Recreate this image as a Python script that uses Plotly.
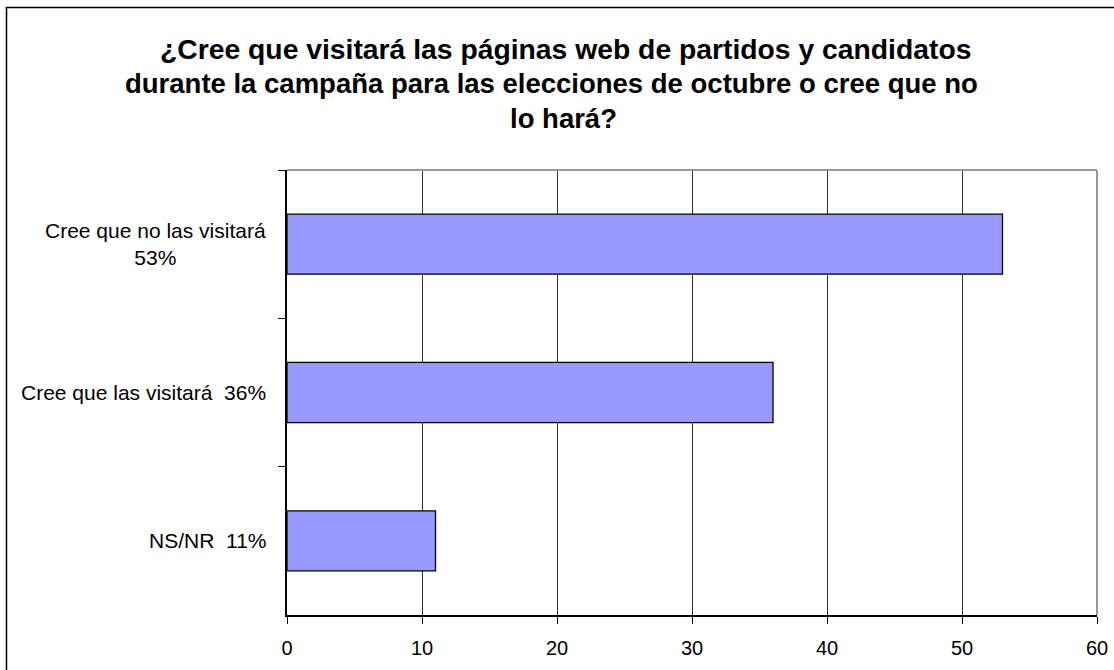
import plotly.graph_objects as go

categories = ["Cree que no las visitará<br>53%", "Cree que las visitará  36%", "NS/NR  11%"]
values = [53, 36, 11]
x_ticks = [0, 10, 20, 30, 40, 50, 60]
title_lines = [
    "¿Cree que visitará las páginas web de partidos y candidatos",
    "durante la campaña para las elecciones de octubre o cree que no",
    "lo hará?",
]

W, H = 1114, 670
L, R, T, B = 287, 17, 170, 55
pw, ph = W - L - R, H - T - B
FONT = "Liberation Sans, Arial, sans-serif"

fig = go.Figure()
fig.add_trace(go.Bar(
    x=values, y=categories, orientation="h",
    marker=dict(color="#9999FF", line=dict(color="#000000", width=1.3)),
    hoverinfo="x+y",
))

annotations = []
for c in categories:
    annotations.append(dict(
        x=0, y=c, xref="x", yref="y", text=c, showarrow=False,
        xanchor="right", yanchor="middle", align="center", xshift=-19,
        font=dict(family=FONT, size=21, color="#000000"),
    ))
# title lines (page-pixel centres and sizes)
title_pos = [(565, 49, 28.3), (551, 83, 27.5), (563, 118, 27.5)]
for line, (px, py, fs) in zip(title_lines, title_pos):
    annotations.append(dict(
        x=(px - L) / pw, y=1 + (T - py) / ph, xref="paper", yref="paper",
        text="<b>" + line + "</b>", showarrow=False, xanchor="center", yanchor="middle",
        font=dict(family=FONT, size=fs, color="#000000"),
    ))

shapes = [
    # outer chart border (extends beyond the visible area on right/bottom)
    dict(type="rect", xref="paper", yref="paper",
         x0=(6.5 - L) / pw, x1=1.2, y0=-0.4, y1=1 + (T - 7.5) / ph,
         line=dict(color="#000000", width=1.5), layer="below"),
    # grey top and right border of plot area
    dict(type="line", xref="paper", yref="paper", x0=0, x1=1, y0=1, y1=1,
         line=dict(color="#999999", width=2), layer="above"),
    dict(type="line", xref="paper", yref="paper", x0=1, x1=1, y0=0, y1=1,
         line=dict(color="#999999", width=2), layer="above"),
]

fig.update_layout(
    width=W, height=H,
    margin=dict(l=L, r=R, t=T, b=B, pad=0, autoexpand=False),
    paper_bgcolor="#FFFFFF", plot_bgcolor="#FFFFFF",
    showlegend=False,
    bargap=0.595,
    annotations=annotations,
    shapes=shapes,
    font=dict(family=FONT, size=20, color="#000000"),
    xaxis=dict(
        range=[0, 60], tickvals=x_ticks, ticktext=[str(v) for v in x_ticks],
        showgrid=True, gridcolor="#333333", gridwidth=1.2,
        zeroline=False, showline=True, linecolor="#000000", linewidth=1.5,
        ticks="outside", ticklen=7, tickcolor="#000000", tickwidth=1.2,
        tickfont=dict(family=FONT, size=20, color="#000000"),
        ticklabelstandoff=7,
        automargin=False, fixedrange=True,
    ),
    yaxis=dict(
        type="category", autorange="reversed",
        showticklabels=False, showgrid=False, zeroline=False,
        showline=True, linecolor="#000000", linewidth=1.5,
        ticks="outside", ticklen=7, tickcolor="#000000", tickwidth=1.2,
        tickson="boundaries",
        automargin=False, fixedrange=True,
    ),
)

fig.write_html(
    "out.html",
    config={"displayModeBar": False},
    post_script="document.body.style.margin='0px';document.body.style.overflow='hidden';",
)
